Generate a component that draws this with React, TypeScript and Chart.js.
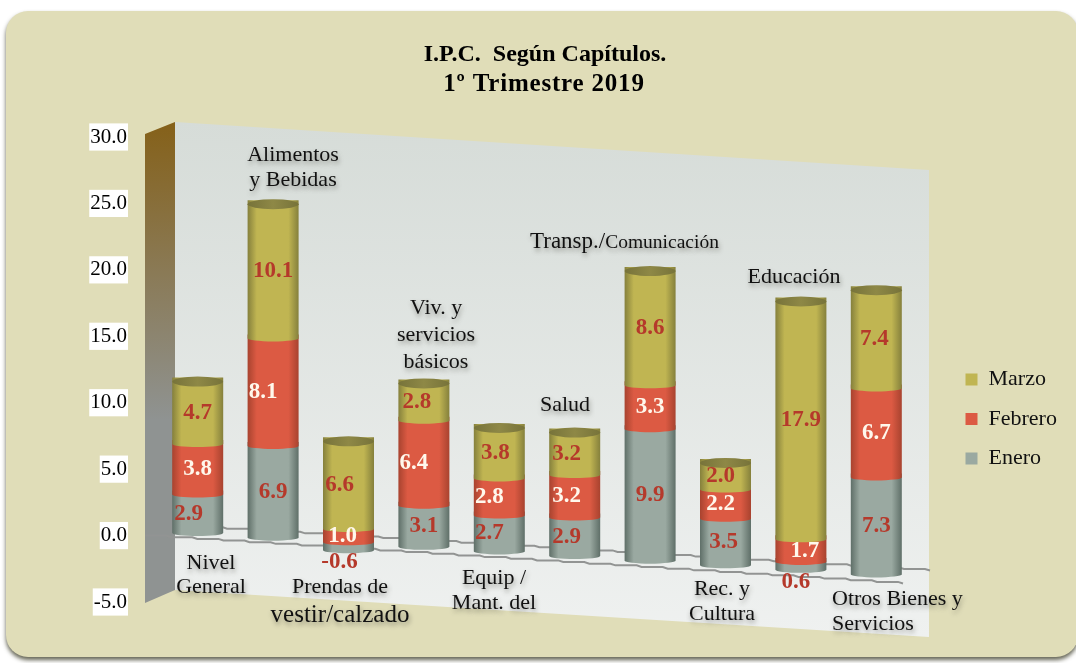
import React, { useEffect, useRef } from "react";
import { Chart, registerables } from "chart.js";

Chart.register(...registerables);

const categories = [
  ["Nivel", "General"],
  ["Alimentos", "y Bebidas"],
  ["Prendas de", "vestir/calzado"],
  ["Viv. y", "servicios", "básicos"],
  ["Equip /", "Mant. del"],
  ["Salud"],
  ["Transp./Comunicación"],
  ["Rec. y", "Cultura"],
  ["Educación"],
  ["Otros Bienes y", "Servicios"],
];
const enero = [2.9, 6.9, -0.6, 3.1, 2.7, 2.9, 9.9, 3.5, 0.6, 7.3];
const febrero = [3.8, 8.1, 1.0, 6.4, 2.8, 3.2, 3.3, 2.2, 1.7, 6.7];
const marzo = [4.7, 10.1, 6.6, 2.8, 3.8, 3.2, 8.6, 2.0, 17.9, 7.4];

const FONT = '"Liberation Serif", serif';
const PANEL = "#e0ddb8";
const seriesColors = ["#9aa9a1", "#dc5a43", "#c0b552"];
const seriesDark = ["#5f6f68", "#a8432f", "#85803c"];
const labelColors = ["#b5392b", "#fff8ec", "#b5392b"];

// Perspective of the drawing: every category sits lower than the previous one.
const TILT = 4.6;
const LIFT = -2.5;

// Horizontal nudges of value labels, per series, as placed in the picture.
const nudgeEnero = [-9, 0, -9, 0, -10, -8, 0, -2, -5, 0];
const nudgeFebrero = [0, -10, -6, -10, -10, -8, 0, -5, 4, 0];
const nudgeMarzo = [0, 0, -9, -7, -4, -8, 0, -5, 0, -2];
const nudges = [nudgeEnero, nudgeFebrero, nudgeMarzo];

// Where the category captions sit.
const captionLayout = [
  { x: 211, y: 563, gap: 24, size: 22 },
  { x: 293, y: 155, gap: 25, size: 22 },
  { x: 340, y: 587, gap: 28, size: 22, lastSize: 25 },
  { x: 436, y: 308, gap: 27, size: 22 },
  { x: 494, y: 578, gap: 25, size: 22 },
  { x: 565, y: 405, gap: 0, size: 22 },
  { x: 530, y: 242, gap: 0, size: 23, split: 8, smallSize: 19.5, align: "left" },
  { x: 722, y: 589, gap: 25, size: 22 },
  { x: 794, y: 277, gap: 0, size: 22 },
  { x: 832, y: 599, gap: 25, size: 22, align: "left" },
];

function poly(ctx: CanvasRenderingContext2D, pts: number[][]) {
  ctx.beginPath();
  pts.forEach((p, i) => (i ? ctx.lineTo(p[0], p[1]) : ctx.moveTo(p[0], p[1])));
  ctx.closePath();
}

function stepLine(ctx: CanvasRenderingContext2D, x0: number, y0: number, x1: number, y1: number) {
  const run = 26;
  const n = Math.round((x1 - x0) / run);
  ctx.beginPath();
  ctx.moveTo(x0, y0);
  for (let i = 1; i <= n; i++) {
    const px = x0 + ((x1 - x0) * i) / n;
    const py = y0 + ((y1 - y0) * i) / n;
    ctx.lineTo(px - 5, y0 + ((y1 - y0) * (i - 1)) / n);
    ctx.lineTo(px, py);
  }
  ctx.stroke();
}

const backdrop = {
  id: "backdrop",
  beforeDraw(chart: any) {
    const { ctx, width, height } = chart;
    ctx.save();
    ctx.fillStyle = "#ffffff";
    ctx.fillRect(0, 0, width, height);

    ctx.save();
    ctx.shadowColor = "rgba(60,60,40,0.8)";
    ctx.shadowBlur = 4;
    ctx.shadowOffsetY = 3;
    ctx.fillStyle = PANEL;
    ctx.beginPath();
    ctx.roundRect(6, 11, 1072, 646, 22);
    ctx.fill();
    ctx.restore();

    // back wall
    const wall = ctx.createLinearGradient(0, 122, 0, 637);
    wall.addColorStop(0, "#d6dcd8");
    wall.addColorStop(1, "#eff1f0");
    ctx.fillStyle = wall;
    poly(ctx, [[175, 122], [929, 170], [929, 637], [175, 590]]);
    ctx.fill();

    // side wall
    const side = ctx.createLinearGradient(0, 125, 0, 420);
    side.addColorStop(0, "#85611a");
    side.addColorStop(1, "#8f9392");
    ctx.fillStyle = side;
    poly(ctx, [[145, 134], [175, 122], [175, 590], [145, 603]]);
    ctx.fill();

    // floor lines, at the zero of the value axis
    const zero = chart.scales.y.getPixelForValue(0);
    ctx.strokeStyle = "#929493";
    ctx.lineWidth = 2;
    stepLine(ctx, 175, zero - 10, 930, zero + 35);
    stepLine(ctx, 145, zero, 903, zero + 48);

    // title
    ctx.fillStyle = "#000";
    ctx.textAlign = "center";
    ctx.textBaseline = "middle";
    const title = chart.options.plugins.title.text;
    ctx.font = `bold 24px ${FONT}`;
    ctx.fillText(title[0], 545, 55);
    ctx.font = `bold 25px ${FONT}`;
    (ctx as any).letterSpacing = "0.8px";
    ctx.fillText(title[1], 544, 85);
    (ctx as any).letterSpacing = "0px";
    ctx.restore();
  },
};

const cylinders = {
  id: "cylinders",
  beforeLayout(chart: any) {
    const l = chart.legend;
    if (l && !l.__patched) {
      const fit = l.fit;
      l.fit = function () {
        fit.call(this);
        this.width = 162;
      };
      l.__patched = true;
    }
  },
  afterLayout(chart: any) {
    const l = chart.legend;
    if (l) {
      l.left = 948;
      l.right = 1076;
      l.top = 0;
      l.bottom = 838;
    }
  },
  beforeDatasetsDraw(chart: any) {
    const { ctx } = chart;
    const place = (y: number, i: number) => y + LIFT + TILT * i;

    const count = chart.data.labels.length;
    for (let i = 0; i < count; i++) {
      const first = chart.getDatasetMeta(0).data[i];
      const w = first.width;
      const x = first.x;
      const rx = w / 2;
      const ry = 3;
      const body = (top: number, bottom: number, light: string, dark: string) => {
        const g = ctx.createLinearGradient(x - rx, 0, x + rx, 0);
        g.addColorStop(0, dark);
        g.addColorStop(0.18, light);
        g.addColorStop(0.8, light);
        g.addColorStop(1, dark);
        ctx.fillStyle = g;
        ctx.beginPath();
        ctx.moveTo(x - rx, top - 4);
        ctx.lineTo(x + rx, top - 4);
        ctx.lineTo(x + rx, bottom);
        ctx.ellipse(x, bottom, rx, ry, 0, 0, Math.PI, false);
        ctx.closePath();
        ctx.fill();
      };
      // lowest segment first, each upper one overlapping the previous
      const segments = [0, 1, 2]
        .map((d) => {
          const el = chart.getDatasetMeta(d).data[i];
          return { d, top: place(Math.min(el.y, el.base), i), bottom: place(Math.max(el.y, el.base), i) };
        })
        .sort((a, b) => b.bottom - a.bottom);
      segments.forEach((s) => body(s.top, s.bottom, seriesColors[s.d], seriesDark[s.d]));

      // top cap
      const top = segments[segments.length - 1];
      const g = ctx.createLinearGradient(x - rx, 0, x + rx, 0);
      g.addColorStop(0, "#77733a");
      g.addColorStop(0.5, "#8e8846");
      g.addColorStop(1, "#77733a");
      ctx.fillStyle = g;
      ctx.beginPath();
      ctx.ellipse(x, top.top, rx, 5, 0, 0, Math.PI * 2);
      ctx.fill();

      // value labels
      ctx.font = `bold 23px ${FONT}`;
      ctx.textAlign = "center";
      ctx.textBaseline = "middle";
      segments.forEach((s) => {
        const v = chart.data.datasets[s.d].data[i];
        const small = Math.abs(v) < 1;
        const y = small ? s.bottom + 12 : (s.top + s.bottom) / 2;
        ctx.fillStyle = labelColors[s.d];
        ctx.fillText(v.toFixed(1), x + nudges[s.d][i], y);
      });
    }
    return false;
  },
  afterDraw(chart: any) {
    const { ctx } = chart;
    ctx.save();
    ctx.fillStyle = "#111";
    ctx.textBaseline = "middle";
    ctx.shadowColor = "rgba(70,70,60,0.55)";
    ctx.shadowBlur = 5;
    ctx.shadowOffsetX = 1;
    ctx.shadowOffsetY = 3;
    chart.data.labels.forEach((lines: string[], i: number) => {
      const c: any = captionLayout[i];
      ctx.textAlign = c.align || "center";
      lines.forEach((line, k) => {
        const size = k === lines.length - 1 && c.lastSize ? c.lastSize : c.size;
        const y = c.y + k * c.gap;
        if (c.split) {
          const head = line.slice(0, c.split);
          ctx.font = `${size}px ${FONT}`;
          ctx.fillText(head, c.x, y);
          const wd = ctx.measureText(head).width;
          ctx.font = `${c.smallSize}px ${FONT}`;
          ctx.fillText(line.slice(c.split), c.x + wd, y + 1);
        } else {
          ctx.font = `${size}px ${FONT}`;
          ctx.fillText(line, c.x, y);
        }
      });
    });
    ctx.restore();
  },
};

export default function App() {
  const ref = useRef<HTMLCanvasElement>(null);
  useEffect(() => {
    document.body.style.margin = "0";
    const chart = new Chart(ref.current as HTMLCanvasElement, {
      type: "bar",
      data: {
        labels: categories as any,
        datasets: [
          { label: "Enero", data: enero, backgroundColor: seriesColors[0], stack: "a", barThickness: 51 },
          { label: "Febrero", data: febrero, backgroundColor: seriesColors[1], stack: "a", barThickness: 51 },
          { label: "Marzo", data: marzo, backgroundColor: seriesColors[2], stack: "a", barThickness: 51 },
        ],
      },
      options: {
        responsive: false,
        animation: false,
        layout: { padding: { top: 137, bottom: 61, left: 0, right: 0 } },
        plugins: {
          title: { display: false, text: ["I.P.C.  Según Capítulos.", "1º Trimestre 2019"] },
          tooltip: { enabled: false },
          legend: {
            display: true,
            position: "right",
            reverse: true,
            labels: {
              boxWidth: 12,
              boxHeight: 12,
              padding: 17.5,
              color: "#111",
              font: { family: FONT, size: 22 },
            },
          },
        },
        scales: {
          x: { display: false, stacked: true, grid: { display: false } },
          y: {
            stacked: true,
            min: -5,
            max: 30,
            afterFit(scale: any) {
              scale.width = 160;
            },
            border: { display: false },
            grid: { display: false, drawTicks: false },
            ticks: {
              stepSize: 5,
              autoSkip: false,
              padding: 33,
              color: "#000",
              font: { family: FONT, size: 21 },
              showLabelBackdrop: true,
              backdropColor: "#ffffff",
              backdropPadding: { x: 1, y: 1 },
              callback: (v: any) => Number(v).toFixed(1),
            },
          },
        },
      } as any,
      plugins: [backdrop, cylinders],
    });
    return () => chart.destroy();
  }, []);
  return (
    <div style={{ position: "fixed", left: 0, top: 0, width: 1076, height: 663 }}>
      <canvas ref={ref} width={1076} height={663} style={{ display: "block" }} />
    </div>
  );
}
